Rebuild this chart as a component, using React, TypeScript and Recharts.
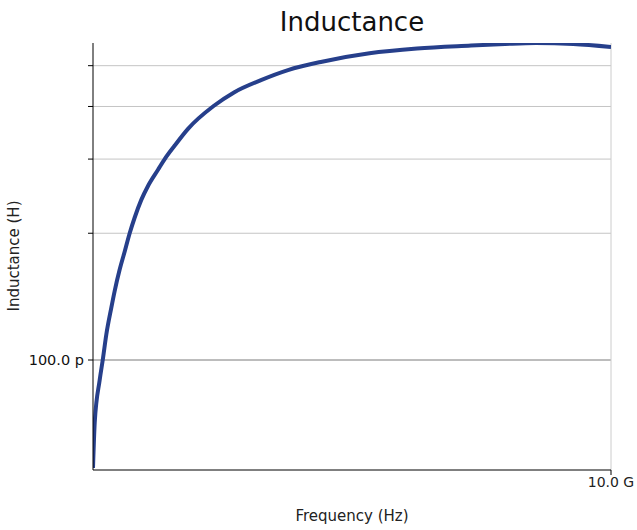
import { LineChart, Line, XAxis, YAxis, ReferenceLine } from 'recharts';

// frequency in GHz, inductance in pH
const freqGHz = [
	0, 0.033, 0.129, 0.193, 0.257, 0.353, 0.419, 0.515, 0.612, 0.708, 0.805, 0.932, 1.062, 1.255,
	1.384, 1.577, 1.834, 2.328, 2.722, 3.243, 3.764, 4.421, 5.338, 6.255, 7.297, 7.954, 8.544,
	9.27, 10.0,
];
const inductancePH = [
	55.4, 70.9, 89.6, 101, 115, 133, 146, 164, 181, 200, 218, 240, 259, 283, 300, 323, 354, 401,
	432, 462, 488, 511, 535, 549, 558, 563, 566, 563, 554,
];
const yTicks = [100, 200, 300, 400, 500];
const xTicks = [10];

const data = freqGHz.map((f, i) => ({ f, L: inductancePH[i] }));

const font = '"DejaVu Sans", sans-serif';

const YTick = (props: any) => {
	const { x, y, payload } = props;
	if (payload.value !== 100) return null;
	return (
		<text x={x - 2} y={y} dy={5} textAnchor="end" fontSize={14.5} fill="#111" fontFamily={font}>
			100.0 p
		</text>
	);
};

export default function App() {
	return (
		<div style={{ position: 'absolute', left: 0, top: 0, width: 637, height: 530, background: '#fff', fontFamily: font }}>
			<div style={{ position: 'absolute', left: 93, width: 518, top: 7, textAlign: 'center', fontSize: 26, color: '#111' }}>
				Inductance
			</div>
			<div
				style={{
					position: 'absolute',
					left: 14,
					top: 256,
					transform: 'translate(-50%, -50%) rotate(-90deg)',
					fontSize: 15,
					whiteSpace: 'nowrap',
					color: '#222',
				}}
			>
				Inductance (H)
			</div>
			<div style={{ position: 'absolute', left: 93, width: 518, top: 507, textAlign: 'center', fontSize: 15, color: '#222' }}>
				Frequency (Hz)
			</div>
			<LineChart width={637} height={530} data={data} margin={{ top: 43, right: 26, bottom: 30, left: 0 }}>
				<XAxis
					dataKey="f"
					type="number"
					domain={[0, 10]}
					ticks={xTicks}
					tickFormatter={() => '10.0 G'}
					height={30}
					stroke="#000"
					tickSize={5}
					tick={{ fontSize: 14, fill: '#222', fontFamily: font }}
					allowDataOverflow
				/>
				<YAxis
					type="number"
					scale="log"
					domain={[54.8, 566]}
					ticks={yTicks}
					width={93}
					stroke="#000"
					tickSize={5}
					tick={<YTick />}
					allowDataOverflow
				/>
				{yTicks.map((t) => (
					<ReferenceLine key={t} y={t} stroke={t === 100 ? '#7a7a7a' : '#c4c4c4'} strokeWidth={1} />
				))}
				<ReferenceLine x={10} stroke="#cccccc" strokeWidth={1} />
				<Line
					type="monotone"
					dataKey="L"
					stroke="#263f8b"
					strokeWidth={4}
					dot={false}
					isAnimationActive={false}
				/>
			</LineChart>
		</div>
	);
}
